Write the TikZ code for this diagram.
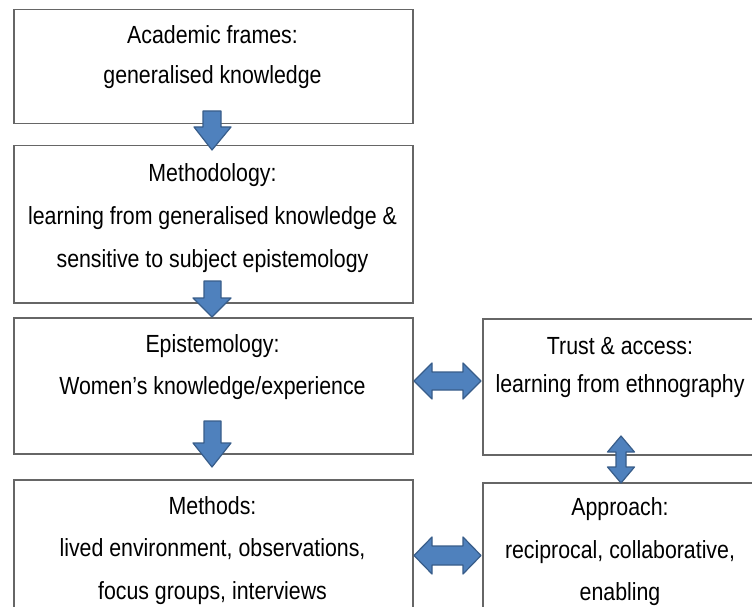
\documentclass[tikz,border=0pt]{standalone}
\usepackage{fontspec}
\setmainfont{Liberation Sans}[FakeStretch=0.86]
\begin{document}
\begin{tikzpicture}[x=1pt,y=-1pt,
  box/.style={draw=black!60, line width=1.5pt, inner sep=0pt, anchor=north west},
  txt/.style={anchor=base, inner sep=0pt, font=\fontsize{24.8}{28}\selectfont, text=black},
  barrow/.style={fill=arrowfill, draw=arrowline, line width=1.2pt, line join=round}]
\definecolor{arrowfill}{HTML}{4F81BD}
\definecolor{arrowline}{HTML}{385D8A}
\clip (0,0) rectangle (752,607);
\fill[white] (0,0) rectangle (752,607);
% boxes
\node[box, minimum width=399pt, minimum height=114pt] (b1) at (13,9) {};
\node[box, minimum width=399pt, minimum height=157pt] (b2) at (13,145) {};
\node[box, minimum width=399pt, minimum height=136pt] (b3) at (13,317) {};
\node[box, minimum width=399pt, minimum height=150pt] (b4) at (13,479) {};
\node[box, minimum width=276pt, minimum height=136pt] (r1) at (482,318) {};
\node[box, minimum width=276pt, minimum height=150pt] (r2) at (482,482) {};
% texts
\node[txt] (t1a) at (212.5,44) {Academic frames:};
\node[txt] (t1b) at (212.5,84) {generalised knowledge};
\node[txt] (t2a) at (212.5,181) {Methodology:};
\node[txt] (t2b) at (212.5,224) {learning from generalised knowledge \&};
\node[txt] (t2c) at (212.5,267) {sensitive to subject epistemology};
\node[txt] (t3a) at (212.5,352) {Epistemology:};
\node[txt] (t3b) at (212.5,394) {Women’s knowledge/experience};
\node[txt] (t4a) at (212.5,514) {Methods:};
\node[txt] (t4b) at (212.5,556) {lived environment, observations,};
\node[txt] (t4c) at (212.5,599) {focus groups, interviews};
\node[txt] (r1a) at (620,354) {Trust \& access:};
\node[txt] (r1b) at (620,392) {learning from ethnography};
\node[txt] (r2a) at (620,515) {Approach:};
\node[txt] (r2b) at (620,558) {reciprocal, collaborative,};
\node[txt] (r2c) at (620,600) {enabling};
% down arrows
\draw[barrow] (203,111) -- (221,111) -- (221,127) -- (231,127) -- (212,150) -- (194,127) -- (203,127) -- cycle;
\draw[barrow] (204,281) -- (221,281) -- (221,298) -- (231,298) -- (212,317) -- (193,298) -- (204,298) -- cycle;
\draw[barrow] (204,421) -- (221,421) -- (221,443) -- (231,443) -- (212,467) -- (193,443) -- (204,443) -- cycle;
% horizontal double arrows
\draw[barrow] (414,381) -- (432,363) -- (432,372) -- (463,372) -- (463,363) -- (481,381) -- (463,399) -- (463,390) -- (432,390) -- (432,399) -- cycle;
\draw[barrow] (414,555.5) -- (432,537) -- (432,546) -- (463,546) -- (463,537) -- (481,555.5) -- (463,574) -- (463,565) -- (432,565) -- (432,574) -- cycle;
% vertical double arrow
\draw[barrow] (621,436) -- (634.5,452) -- (626,452) -- (626,467) -- (634.5,467) -- (621,483) -- (607.5,467) -- (616,467) -- (616,452) -- (607.5,452) -- cycle;
\end{tikzpicture}
\end{document}
